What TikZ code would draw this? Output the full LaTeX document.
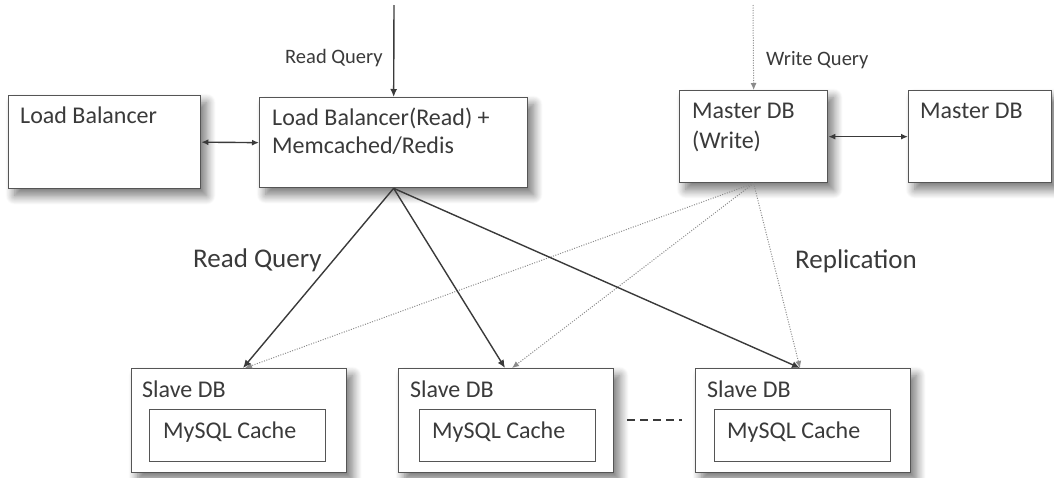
\documentclass[tikz,border=0pt]{standalone}
\usepackage{fontspec}
\setmainfont{Carlito}
\usetikzlibrary{arrows.meta,shadows.blur}
\definecolor{ink}{HTML}{3A3A3A}
\definecolor{edge}{HTML}{555555}
\definecolor{dotc}{HTML}{8A8A8A}
\begin{document}
\begin{tikzpicture}[x=1pt,y=-1pt,
  box/.style={draw=edge, line width=1.3pt, fill=white, inner sep=0pt, anchor=north west,
    blur shadow={shadow xshift=6pt, shadow yshift=-7pt, shadow blur radius=9pt, shadow blur steps=12, shadow opacity=55}},
  inbox/.style={draw=edge, line width=1.1pt, fill=white, inner sep=0pt, anchor=north west},
  txt/.style={anchor=base west, inner sep=0pt, text=ink, font=\fontsize{24}{28}\selectfont},
  small/.style={anchor=base west, inner sep=0pt, text=ink, font=\fontsize{20.5}{24}\selectfont},
  big/.style={anchor=base west, inner sep=0pt, text=ink, font=\fontsize{27}{32}\selectfont},
  solidarrow/.style={draw=ink, line width=1.4pt, -{Latex[length=8pt,width=7pt]}},
  dblarrow/.style={draw=ink, line width=1.4pt, {Latex[length=7pt,width=6pt]}-{Latex[length=7pt,width=6pt]}},
  replarrow/.style={draw=dotc, line width=1pt, dash pattern=on 1pt off 1.5pt, -{Latex[length=7pt,width=6pt]}},
]
\useasboundingbox (0,0) rectangle (1054,477);

% top row boxes
\node[box, minimum width=192pt, minimum height=93pt] (lb) at (8,95) {};
\node[box, minimum width=268pt, minimum height=90pt] (lbr) at (259,97) {};
\node[box, minimum width=148pt, minimum height=92pt] (mw) at (679,90) {};
\node[box, minimum width=143pt, minimum height=92pt] (mr) at (908,90) {};

% slave boxes
\node[box, minimum width=215pt, minimum height=104pt] (s1) at (131,368) {};
\node[box, minimum width=215pt, minimum height=104pt] (s2) at (398,368) {};
\node[box, minimum width=215pt, minimum height=104pt] (s3) at (695,368) {};
\node[inbox, minimum width=176pt, minimum height=52pt] (c1) at (149,409) {};
\node[inbox, minimum width=176pt, minimum height=52pt] (c2) at (419,409) {};
\node[inbox, minimum width=176pt, minimum height=52pt] (c3) at (714,409) {};

% texts in boxes
\node[txt] (tlb) at (20,123) {Load Balancer};
\node[txt] (tlbr1) at (272,125) {Load Balancer(Read) +};
\node[txt] (tlbr2) at (272,153) {Memcached/Redis};
\node[txt] (tmw1) at (692,118) {Master DB};
\node[txt] (tmw2) at (692,148) {(Write)};
\node[txt] (tmr) at (920,118) {Master DB};
\node[txt] (ts1) at (142,397) {Slave DB};
\node[txt] (ts2) at (410,397) {Slave DB};
\node[txt] (ts3) at (707,397) {Slave DB};
\node[txt] (tc1) at (163,438) {MySQL Cache};
\node[txt] (tc2) at (432,438) {MySQL Cache};
\node[txt] (tc3) at (727,438) {MySQL Cache};

% labels
\node[small] (lrq) at (285,63) {Read Query};
\node[small] (lwq) at (766,65) {Write Query};
\node[big] (lrq2) at (193,267) {Read Query};
\node[big] (lrep) at (795,268) {Replication};

% coordinates
\coordinate (rin) at (394,5);
\coordinate (win) at (753,5);
\coordinate (t1) at (243,368);
\coordinate (t2) at (505,368);
\coordinate (t3) at (800,368);
\coordinate (d1) at (245,368);
\coordinate (d2) at (512,368);
\coordinate (d3) at (800,368);
\coordinate (ds) at (627,420);
\coordinate (de) at (682,420);

% connectors
\draw[solidarrow] (rin) -- (lbr.north);
\draw[replarrow] (win) -- (mw.north);
\draw[dblarrow] (lb.east) -- (lbr.west);
\draw[dblarrow] (mw.east) -- (mr.west);

\draw[replarrow] (mw.south) -- (d1);
\draw[replarrow] (mw.south) -- (d2);
\draw[replarrow] (mw.south) -- (d3);

\draw[solidarrow] (lbr.south) -- (t1);
\draw[solidarrow] (lbr.south) -- (t2);
\draw[solidarrow] (lbr.south) -- (t3);

\draw[draw=ink, line width=1.6pt, dash pattern=on 8pt off 5pt] (ds) -- (de);
\end{tikzpicture}
\end{document}
